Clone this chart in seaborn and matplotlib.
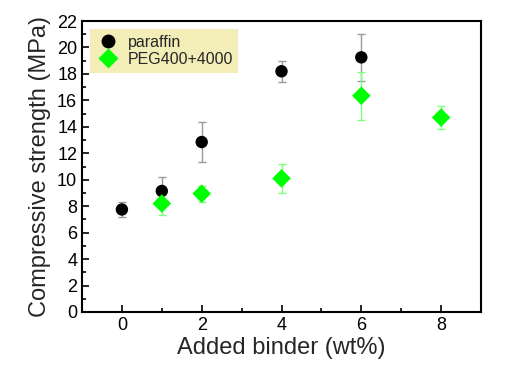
import matplotlib
matplotlib.use("Agg")
import matplotlib.pyplot as plt
import seaborn as sns
import pandas as pd
from matplotlib.ticker import MultipleLocator

sns.set_style("ticks")
plt.rcParams['font.family'] = ['Liberation Sans', 'DejaVu Sans']

par_x = [0, 1, 2, 4, 6]
par_y = [7.75, 9.15, 12.85, 18.2, 19.25]
par_err = [0.6, 1.05, 1.5, 0.8, 1.75]

peg_x = [1, 2, 4, 6, 8]
peg_y = [8.2, 8.95, 10.1, 16.35, 14.7]
peg_err = [0.85, 0.6, 1.1, 1.8, 0.9]

df = pd.concat([
    pd.DataFrame({"x": par_x, "y": par_y, "err": par_err, "series": "paraffin"}),
    pd.DataFrame({"x": peg_x, "y": peg_y, "err": peg_err, "series": "PEG400+4000"}),
])

fig = plt.figure(figsize=(5.07, 3.72), dpi=100)
ax = fig.add_axes([82/507, 1-312/372, (481-82)/507, (312-21)/372])

for name, ecol in [("paraffin", "#9a9a9a"), ("PEG400+4000", "#7dff7d")]:
    d = df[df.series == name]
    ax.errorbar(d.x, d.y, yerr=d.err, fmt="none", ecolor=ecol, elinewidth=1,
                capsize=3, capthick=1, zorder=2)

sns.scatterplot(data=df, x="x", y="y", hue="series", style="series", size="series",
                palette={"paraffin": "black", "PEG400+4000": "#00ff00"},
                markers={"paraffin": "o", "PEG400+4000": "D"},
                sizes={"paraffin": 80, "PEG400+4000": 90},
                edgecolor="none", ax=ax, zorder=3)

ax.set_xlim(-1, 9)
ax.set_ylim(0, 22)
ax.xaxis.set_major_locator(MultipleLocator(2))
ax.xaxis.set_minor_locator(MultipleLocator(1))
ax.yaxis.set_major_locator(MultipleLocator(2))
ax.yaxis.set_minor_locator(MultipleLocator(1))
ax.tick_params(which="both", direction="in", top=False, right=False, colors="black",
               labelsize=13, width=1.2)
ax.tick_params(which="major", length=5)
ax.tick_params(which="minor", length=3)
for sp in ax.spines.values():
    sp.set_visible(True)
    sp.set_linewidth(1.5)
    sp.set_color("black")

ax.set_xlabel("Added binder (wt%)", fontsize=17, labelpad=2)
ax.set_ylabel("Compressive strength (MPa)", fontsize=17, labelpad=4)

leg = ax.legend(loc="upper left", frameon=True, fontsize=11.5, handletextpad=0.4,
                borderpad=0.35, labelspacing=0.15, borderaxespad=0.5,
                handlelength=1.6, bbox_to_anchor=(0.0, 1.0))
for h in leg.legend_handles:
    try:
        h.set_markersize(10)
    except Exception:
        pass
leg.get_frame().set_facecolor("#f3eeb8")
leg.get_frame().set_edgecolor("none")
leg.get_frame().set_alpha(1)
leg.get_frame().set_boxstyle("square", pad=0)

fig.savefig("out.png", dpi=100)
